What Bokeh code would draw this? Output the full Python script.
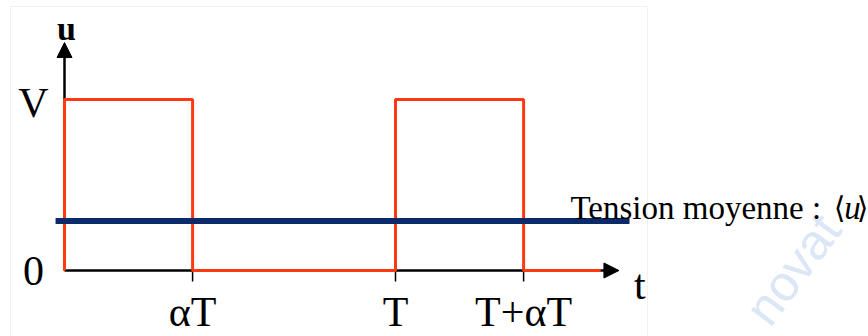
from bokeh.plotting import figure
from bokeh.models import Range1d, Arrow, NormalHead, BoxAnnotation
from bokeh.core.properties import value
from bokeh.embed import file_html
from bokeh.resources import INLINE

# PWM voltage: amplitude V, duty cycle alpha, period T, and its average level
V = 1.0
alpha = 0.387
period = 1.0
mean_level = 0.29
signal_end = 1.62
axis_end = 1.675
mean_start = -0.027
mean_end = 1.707

tick_positions = [alpha, period, period + alpha]
tick_labels = ["\u03b1T", "T", "T+\u03b1T"]
level_labels = ["V", "0"]
level_values = [V, 0.0]

SERIF = "Liberation Serif"
RED = "#ff3a12"
NAVY = "#0b2a6a"

# pixel scale: 331 px per period, 171 px per V
x_lo, x_hi = -64 / 331, 804 / 331
y_lo, y_hi = -66 / 171, 270 / 171
px = 1 / 331
py = 1 / 171

p = figure(width=868, height=336, output_backend="svg", toolbar_location=None,
           x_range=Range1d(x_lo, x_hi), y_range=Range1d(y_lo, y_hi),
           min_border=0, outline_line_color=None)
p.axis.visible = False
p.xgrid.visible = False
p.ygrid.visible = False

# light frame around the drawing
p.add_layout(BoxAnnotation(left=x_lo + 10 * px, right=x_lo + 647 * px,
                           top=y_hi - 6 * py, bottom=y_lo - 1.0,
                           fill_color=None, line_color="#d2d2d2", line_width=1,
                           level="underlay"))

# faint watermark
p.text(x=[(756 - 64) * px], y=[(270 - 318) * py], text=["novat"],
       text_font=value("Liberation Sans"), text_font_size="50px",
       text_color="#dbe6f6", angle=0.93, text_baseline="alphabetic")

# axes with arrow heads, kept beneath the curves
p.add_layout(Arrow(end=NormalHead(size=15, fill_color="black", line_color="black"),
                   x_start=0, y_start=0, x_end=0, y_end=1.333,
                   line_color="black", line_width=2.5, level="underlay"))
p.add_layout(Arrow(end=NormalHead(size=15, fill_color="black", line_color="black"),
                   x_start=0, y_start=0, x_end=axis_end, y_end=0,
                   line_color="black", line_width=2.5, level="underlay"))

# tick marks under the time axis
p.segment(x0=tick_positions, y0=[0] * 3, x1=tick_positions, y1=[-11 * py] * 3,
          line_color="black", line_width=1.5)

# square wave
wave_x = [0, 0, alpha, alpha, period, period, period + alpha, period + alpha, signal_end]
wave_y = [0, V, V, 0, 0, V, V, 0, 0]
p.line(wave_x, wave_y, line_color=RED, line_width=3)

# average voltage
p.line([mean_start, mean_end], [mean_level, mean_level], line_color=NAVY, line_width=6)

# tick labels
p.text(x=tick_positions, y=[-41 * py] * 3, text=tick_labels,
       text_font=value(SERIF), text_font_size="42px", text_color="black",
       text_align="center", text_baseline="middle")

# level labels
p.text(x=[-31 * px] * 2, y=level_values, text=level_labels, y_offset=[3, 0],
       text_font=value(SERIF), text_font_size="42px", text_color="black",
       text_align="center", text_baseline="middle")

# axis names
p.text(x=[2 * px], y=[1.333 + 14 * py], text=["u"],
       text_font=value(SERIF), text_font_size="34px", text_font_style="bold",
       text_color="black", text_align="center", text_baseline="alphabetic")
p.text(x=[axis_end + 21 * px], y=[-14 * py], text=["t"],
       text_font=value(SERIF), text_font_size="42px",
       text_color="black", text_align="center", text_baseline="middle")

# annotation of the average level
base_y = (270 - 207) * py
p.text(x=[(570 - 64) * px], y=[base_y], text=["Tension moyenne : "],
       text_font=value(SERIF), text_font_size="33px", text_color="black",
       text_align="left", text_baseline="alphabetic")
p.text(x=[(839 - 64) * px], y=[base_y], text=["\u27e8"],
       text_font=value("DejaVu Serif"), text_font_size="30px", text_color="black",
       text_align="center", text_baseline="alphabetic")
p.text(x=[(852 - 64) * px], y=[base_y], text=["u"],
       text_font=value(SERIF), text_font_size="33px", text_font_style="italic",
       text_color="black", text_align="center", text_baseline="alphabetic")
p.text(x=[(862 - 64) * px], y=[base_y], text=["\u27e9"],
       text_font=value("DejaVu Serif"), text_font_size="30px", text_color="black",
       text_align="center", text_baseline="alphabetic")

open("out.html", "w").write(file_html(p, INLINE))
